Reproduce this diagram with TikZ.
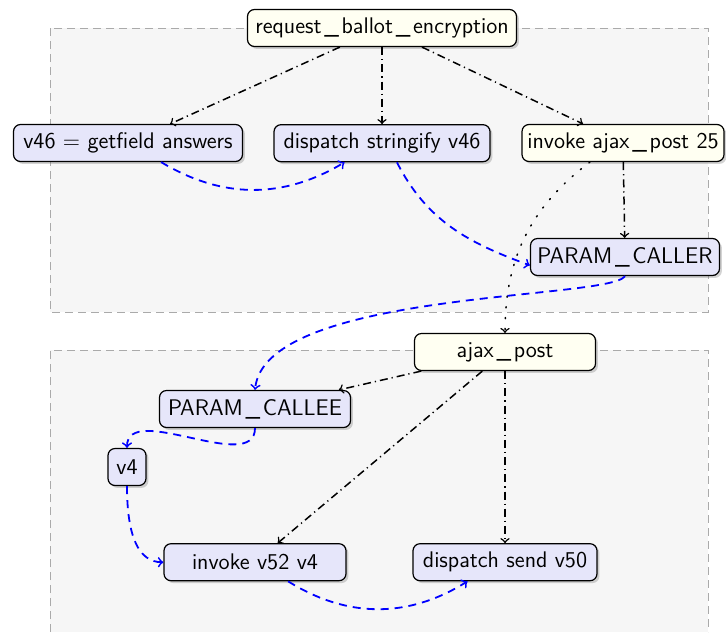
\documentclass[tikz,border=0pt]{standalone}
\usepackage{tikz}
\usetikzlibrary{shapes,arrows,positioning,shadows}
\definecolor{ivory}{RGB}{255,255,242}
\definecolor{lavender}{RGB}{230,230,250}
\definecolor{clusterbg}{RGB}{246,246,246}
\definecolor{clusterline}{RGB}{170,170,170}
% spaced underscore for identifiers
\newcommand{\us}{\kern0.12em\_\kern0.12em}
\tikzstyle{block} = [rectangle, rounded corners=3.5pt, draw, semithick, minimum height=18.5pt, inner sep=2pt, font=\sffamily\fontsize{11.3}{13}\selectfont, drop shadow={shadow xshift=1.2pt, shadow yshift=-1.2pt, opacity=0.35}]
\tikzstyle{func} = [block, fill=ivory]
\tikzstyle{instr} = [block, fill=lavender]
\tikzstyle{ctrl} = [line width=0.75pt,->,dash pattern=on 4pt off 2pt on 0.6pt off 2pt]
\tikzstyle{data} = [line width=0.9pt,->,blue,dash pattern=on 4pt off 3pt]
\tikzstyle{call} = [line width=0.75pt,->,line cap=round,dash pattern=on 0.6pt off 4.8pt]
\tikzstyle{cluster} = [draw=clusterline, thin, dash pattern=on 4pt off 2.5pt]

\begin{document}
\begin{tikzpicture}[x=0.5pt, y=-0.5pt]
            \useasboundingbox (0,0) rectangle (726,632);
            % the two function clusters
            \fill[clusterbg] (50,28) rectangle (708,312);
            \draw[cluster] (50,28) rectangle (708,312);
            \fill[clusterbg] (50,350) rectangle (708,632);
            \draw[cluster] (50,632) -- (50,350) -- (708,350) -- (708,632);

            % caller
            \node[func, minimum width=134.5pt] (req) at (382,28) {request\us ballot\us encryption};
            \node[instr, minimum width=114.5pt] (v46) at (128,143) {v46 = getfield answers};
            \node[instr, minimum width=108pt, below=38.5pt of req] (str) {dispatch stringify v46};
            \node[func, minimum width=101pt] (inv) at (623,143) {invoke ajax\us post 25};
            \node[instr, minimum width=94.5pt] (pc) at (625,257) {PARAM\us CALLER};

            % callee
            \node[func, minimum width=90.5pt] (ajax) at (505,352) {ajax\us post};
            \node[instr, minimum width=95.5pt] (pce) at (255,409) {PARAM\us CALLEE};
            \node[instr, minimum width=19pt] (v4) at (127,467) {v4};
            \node[instr, minimum width=91pt, below=57.5pt of pce] (inv52) {invoke v52 v4};
            \node[instr, minimum width=92pt, below=86pt of ajax] (ds) {dispatch send v50};

            \draw[ctrl] (req) -- (v46);
            \draw[ctrl] (req) -- (str);
            \draw[ctrl] (req) -- (inv);
            \draw[ctrl] (inv) -- (pc);
            \draw[call] (inv.-150) to[out=-143,in=90] (ajax);

            \draw[data] (v46.-30) to[out=-31,in=-149] (str.-153);
            \draw[data] (str.-52) to[out=-63,in=160] (pc.-175);
            \draw[data] (pc.south) .. controls +(-15,24) and +(10,-100) .. (pce.north);

            \draw[ctrl] (ajax) -- (pce);
            \draw[ctrl] (ajax) -- (inv52);
            \draw[ctrl] (ajax) -- (ds);

            \draw[data] (pce.south) .. controls +(0,47) and +(0,-47) .. (v4.north);
            \draw[data] (v4.south) .. controls +(0,50) and +(-25,0) .. (inv52.west);
            \draw[data] (inv52.-30) to[out=-32,in=-148] (ds.-153);
\end{tikzpicture}
\end{document}
